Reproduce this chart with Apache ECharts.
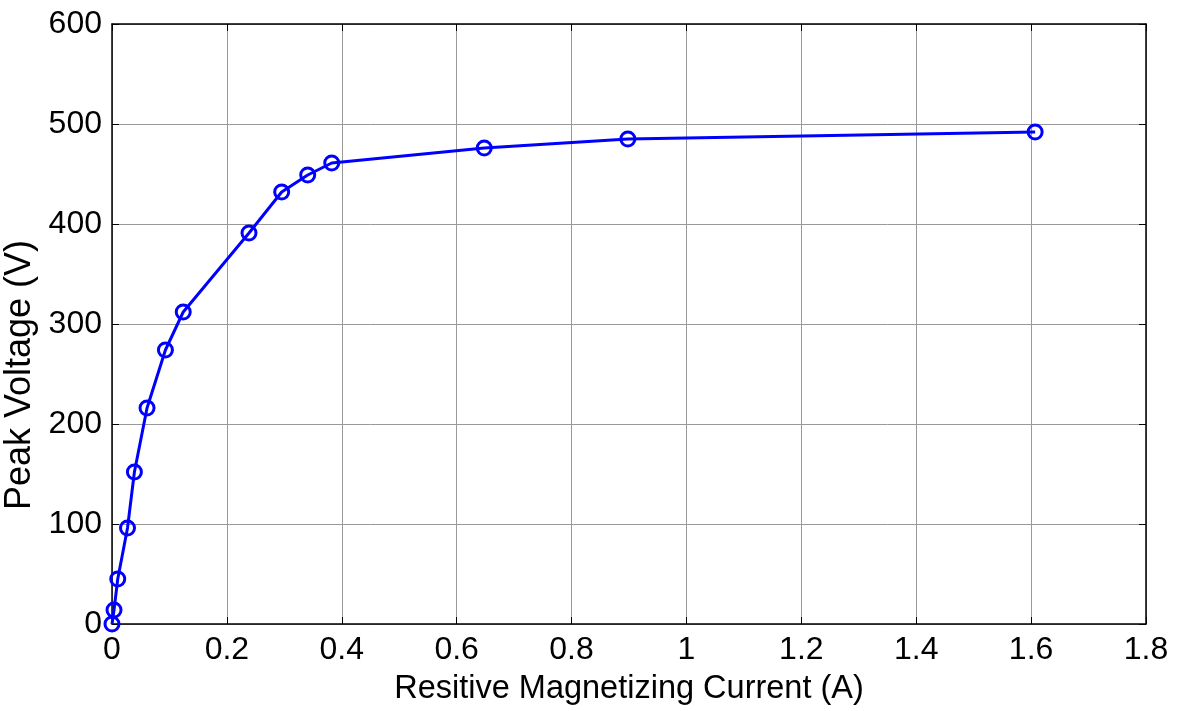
<!DOCTYPE html>
<html>
<head>
<meta charset="utf-8">
<script src="https://cdn.jsdelivr.net/npm/echarts@6/dist/echarts.min.js"></script>
<style>html,body{margin:0;padding:0;background:#fff;}#c{width:1179px;height:711px;}</style>
</head>
<body>
<div id="c"></div>
<script>
const currentA = [0, 0.0035, 0.010, 0.027, 0.039, 0.061, 0.093, 0.124, 0.2385, 0.2954, 0.3407, 0.3825, 0.648, 0.898, 1.607];
const voltageV = [0, 14, 45, 96, 152, 216, 274, 312, 391, 432, 449, 461, 476, 485, 492];
const xTitle = 'Resitive Magnetizing Current (A)';
const yTitle = 'Peak Voltage (V)';

const font = 'Liberation Sans, Arial, sans-serif';
const chart = echarts.init(document.getElementById('c'), null, {renderer: 'canvas'});
const tickStyle = {show: true, inside: true, length: 7, lineStyle: {color: '#000', width: 1}};
chart.setOption({
  animation: false,
  backgroundColor: '#fff',
  grid: {left: 112, right: 33, top: 24, bottom: 87, show: false, containLabel: false, outerBoundsMode: 'none'},
  xAxis: [{
    type: 'value', min: 0, max: 1.8, interval: 0.2, position: 'bottom',
    name: xTitle, nameLocation: 'middle', nameGap: 49,
    nameTextStyle: {fontFamily: font, fontSize: 32.5, color: '#000'},
    axisLine: {show: true, onZero: false, lineStyle: {color: '#000', width: 1.5}},
    axisTick: tickStyle,
    axisLabel: {fontFamily: font, fontSize: 32, color: '#000', margin: 10,
      formatter: v => String(Math.round(v * 10) / 10)},
    splitLine: {show: true, lineStyle: {color: '#999', width: 1}}
  }, {
    type: 'value', min: 0, max: 1.8, interval: 0.2, position: 'top',
    axisLine: {show: true, onZero: false, lineStyle: {color: '#000', width: 1.5}},
    axisTick: tickStyle, axisLabel: {show: false}, splitLine: {show: false}
  }],
  yAxis: [{
    type: 'value', min: 0, max: 600, interval: 100, position: 'left',
    name: yTitle, nameLocation: 'middle', nameGap: 67, nameRotate: 90,
    nameTextStyle: {fontFamily: font, fontSize: 36, color: '#000', padding: [0, 102, 0, 0]},
    axisLine: {show: true, onZero: false, lineStyle: {color: '#000', width: 1.5}},
    axisTick: tickStyle,
    axisLabel: {fontFamily: font, fontSize: 32, color: '#000', margin: 10},
    splitLine: {show: true, lineStyle: {color: '#999', width: 1}}
  }, {
    type: 'value', min: 0, max: 600, interval: 100, position: 'right',
    axisLine: {show: true, onZero: false, lineStyle: {color: '#000', width: 1.5}},
    axisTick: tickStyle, axisLabel: {show: false}, splitLine: {show: false}
  }],
  series: [{
    type: 'line',
    data: currentA.map((x, i) => [x, voltageV[i]]),
    symbol: 'circle', symbolSize: 14,
    itemStyle: {color: 'rgba(255,255,255,0)', borderColor: '#0000ff', borderWidth: 3},
    lineStyle: {color: '#0000ff', width: 3},
    z: 5
  }]
});
</script>
</body>
</html>
